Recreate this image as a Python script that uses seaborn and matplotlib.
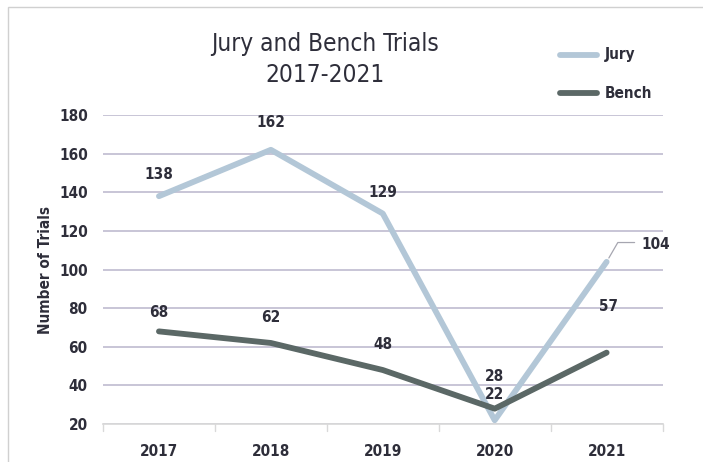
import matplotlib
matplotlib.use("Agg")
import matplotlib.pyplot as plt
import seaborn as sns
import pandas as pd
from matplotlib.patches import Rectangle

years = ["2017", "2018", "2019", "2020", "2021"]
jury = [138, 162, 129, 22, 104]
bench = [68, 62, 48, 28, 57]
yticks = [20, 40, 60, 80, 100, 120, 140, 160, 180]

sns.set_theme(style="white")
plt.rcParams['font.family'] = ['DejaVu Sans']
plt.rcParams['font.stretch'] = 'condensed'

df = pd.DataFrame({"Year": years * 2,
                   "Trials": jury + bench,
                   "Series": ["Jury"] * 5 + ["Bench"] * 5})

c_jury = "#b3c7d7"
c_bench = "#5b6866"
txt = "#2e2e3a"

fig = plt.figure(figsize=(7.03, 4.62), dpi=100)
ax = fig.add_axes([0.1465, 0.082, 0.796, 0.669])

sns.lineplot(data=df, x="Year", y="Trials", hue="Series",
             palette={"Jury": c_jury, "Bench": c_bench},
             linewidth=4.2, ax=ax, sort=False, legend=False)

ax.set_ylim(20, 180)
ax.set_xlim(-0.5, 4.5)
ax.set_yticks(yticks)
ax.set_yticklabels([str(v) for v in yticks], fontsize=11, fontweight="bold", color=txt)
ax.set_xticks(range(5))
ax.set_xticklabels(years, fontsize=11, fontweight="bold", color=txt)
ax.tick_params(axis="x", length=0, pad=14)
ax.tick_params(axis="y", length=0, pad=11)
ax.grid(axis="y", color="#b9b5cc", linewidth=1.1)
ax.set_axisbelow(True)
for s in ["top", "right", "left"]:
    ax.spines[s].set_visible(False)
ax.spines["bottom"].set_color("#d9d9d9")
for xb in [-0.5, 0.5, 1.5, 2.5, 3.5, 4.5]:
    ax.plot([xb, xb], [20, 16.5], color="#d9d9d9", lw=1, clip_on=False)

ax.set_xlabel("")
ax.set_ylabel("Number of Trials", fontsize=11, fontweight="bold", color=txt, labelpad=4)

# data labels (offsets in data units above each point)
jury_off = [11, 14, 11, 13.5, None]
for i, v in enumerate(jury):
    if jury_off[i] is not None:
        ax.text(i, v + jury_off[i], str(v), ha="center", va="center",
                fontsize=11, fontweight="bold", color=txt)
# 2021 jury with leader
ax.text(4.31, 113, str(jury[4]), ha="left", va="center", fontsize=11, fontweight="bold", color=txt)
ax.plot([4.02, 4.1, 4.25], [106, 114, 114], color="#a6a6b0", lw=0.9)

bench_off = [10, 13, 13, 16.5, 24]
for i, v in enumerate(bench):
    ax.text(i + (0.02 if i == 4 else 0), v + bench_off[i], str(v), ha="center", va="center",
            fontsize=11, fontweight="bold", color=txt)

# title
fig.text(0.462, 0.905, "Jury and Bench Trials", ha="center", va="center",
         fontsize=17.5, color=txt, fontweight="light")
fig.text(0.462, 0.837, "2017-2021", ha="center", va="center",
         fontsize=17.5, color=txt, fontweight="light")

# legend
for yy, col, lab in [(0.882, c_jury, "Jury"), (0.798, c_bench, "Bench")]:
    fig.add_artist(plt.Line2D([0.797, 0.849], [yy, yy], color=col, lw=4.2,
                              transform=fig.transFigure))
    fig.text(0.86, yy, lab, ha="left", va="center", fontsize=11,
             fontweight="bold", color=txt)

# frame
fig.add_artist(Rectangle((0.011, -0.01), 1.0, 0.995, transform=fig.transFigure,
                         fill=False, edgecolor="#d0d0d0", lw=1))

fig.savefig("out.png", dpi=100)
